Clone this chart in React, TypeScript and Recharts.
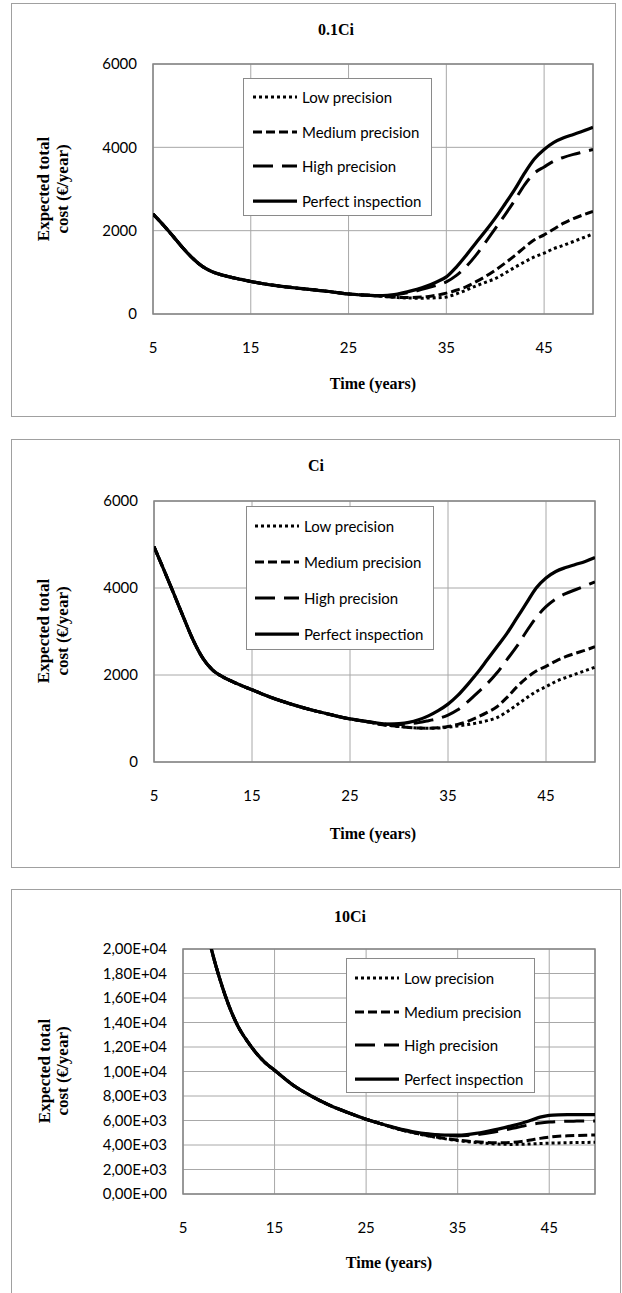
import React from 'react';
import { LineChart, Line, XAxis, YAxis, CartesianGrid, ReferenceArea, Legend } from 'recharts';

// ---------- data ----------
const years = [5, 6, 7, 8, 9, 10, 11, 12, 13, 14, 15, 17, 19, 21, 23, 25, 27, 28, 29, 30, 31, 32, 33, 34, 35, 36, 37, 38, 39, 40, 41, 42, 43, 44, 45, 46, 47, 48, 49, 50];
const xTicks = [5, 15, 25, 35, 45];

// Panel 1: 0.1Ci (years 5..27 shared, then 28..50 per series)
const p1Common = [2400, 2150, 1880, 1600, 1350, 1150, 1020, 940, 880, 830, 780, 700, 640, 590, 540, 480, 450];
const p1LowTail = [435, 412, 395, 385, 380, 382, 390, 410, 480, 570, 670, 760, 850, 980, 1120, 1250, 1370, 1460, 1570, 1650, 1740, 1830, 1920];
const p1MediumTail = [435, 415, 400, 395, 400, 415, 450, 500, 570, 650, 770, 900, 1050, 1220, 1400, 1600, 1780, 1900, 2040, 2180, 2290, 2380, 2460];
const p1HighTail = [440, 445, 470, 510, 560, 620, 690, 770, 920, 1130, 1400, 1720, 2050, 2380, 2730, 3100, 3380, 3530, 3670, 3760, 3830, 3890, 3950];
const p1PerfectTail = [440, 450, 480, 530, 590, 670, 770, 890, 1120, 1400, 1700, 1990, 2300, 2640, 2990, 3380, 3720, 3950, 4120, 4230, 4310, 4390, 4480];

// Panel 2: Ci
const p2Common = [4950, 4420, 3880, 3330, 2800, 2380, 2110, 1960, 1850, 1750, 1660, 1480, 1330, 1200, 1090, 990, 920];
const p2LowTail = [870, 840, 815, 795, 782, 775, 780, 800, 830, 860, 900, 950, 1020, 1150, 1310, 1470, 1620, 1730, 1850, 1940, 2020, 2100, 2180];
const p2MediumTail = [870, 840, 815, 795, 782, 778, 788, 815, 865, 935, 1030, 1140, 1270, 1480, 1720, 1930, 2090, 2200, 2320, 2420, 2500, 2570, 2650];
const p2HighTail = [885, 865, 860, 875, 905, 950, 1000, 1080, 1200, 1380, 1590, 1800, 2050, 2350, 2650, 3000, 3320, 3570, 3750, 3870, 3960, 4050, 4140];
const p2PerfectTail = [890, 870, 880, 910, 970, 1060, 1180, 1330, 1530, 1780, 2050, 2350, 2650, 2950, 3300, 3650, 4000, 4230, 4380, 4470, 4540, 4610, 4700];

// Panel 3: 10Ci
const p3Common = [null, null, 23800, 20300, 17600, 15400, 13700, 12500, 11500, 10700, 10100, 8900, 8000, 7250, 6650, 6100, 5650];
const p3LowTail = [5400, 5200, 5030, 4860, 4710, 4580, 4460, 4360, 4270, 4200, 4140, 4090, 4060, 4050, 4060, 4090, 4120, 4150, 4170, 4190, 4200, 4210, 4220];
const p3MediumTail = [5400, 5200, 5030, 4860, 4720, 4600, 4490, 4400, 4320, 4260, 4220, 4190, 4180, 4210, 4290, 4410, 4540, 4640, 4710, 4750, 4780, 4800, 4810];
const p3HighTail = [5430, 5230, 5070, 4940, 4850, 4790, 4750, 4740, 4770, 4840, 4940, 5060, 5200, 5360, 5520, 5670, 5790, 5870, 5920, 5940, 5950, 5960, 5960];
const p3PerfectTail = [5450, 5250, 5100, 4980, 4890, 4830, 4800, 4800, 4850, 4950, 5080, 5230, 5400, 5580, 5780, 6020, 6270, 6420, 6460, 6470, 6470, 6480, 6480];

const p12YTicks = [0, 2000, 4000, 6000];
const p3YTicks = [0, 2000, 4000, 6000, 8000, 10000, 12000, 14000, 16000, 18000, 20000];

const titles = ['0.1Ci', 'Ci', '10Ci'];
const xTitle = 'Time (years)';
const yTitle1 = 'Expected total';
const yTitle2 = 'cost  (€/year)';

// ---------- styling config ----------
const SERIES = [
  { key: 'low', name: 'Low precision', dash: '3 3', width: 3 },
  { key: 'medium', name: 'Medium precision', dash: '9 4', width: 3 },
  { key: 'high', name: 'High precision', dash: '20 9', width: 3 },
  { key: 'perfect', name: 'Perfect inspection', dash: undefined, width: 3.25 },
];

const buildRows = (common: any[], low: number[], med: number[], high: number[], perf: number[]) =>
  years.map((y, i) => {
    const c = i < common.length;
    const j = i - common.length;
    return {
      year: y,
      low: c ? common[i] : low[j],
      medium: c ? common[i] : med[j],
      high: c ? common[i] : high[j],
      perfect: c ? common[i] : perf[j],
    };
  });

const sci = (v: number) => {
  if (v === 0) return '0,00E+00';
  const e = Math.floor(Math.log10(v) + 1e-9);
  const m = v / Math.pow(10, e);
  return `${m.toFixed(2).replace('.', ',')}E+${String(e).padStart(2, '0')}`;
};

const TICK_FONT = 'Lato, "Open Sans", sans-serif';
const SERIF = '"Liberation Serif", "Times New Roman", serif';

const PANELS = [
  {
    top: 0, height: 440,
    plot: { left: 153, right: 593, top: 64, bottom: 314 },
    rows: buildRows(p1Common, p1LowTail, p1MediumTail, p1HighTail, p1PerfectTail),
    yDomain: [0, 6000], yTicks: p12YTicks, yFmt: (v: number) => String(v),
    legend: { left: 243, top: 78, width: 189, height: 138, rowStart: 18, rowGap: 34.7, sx: 9 },
    title: { x: 336, y: 29 }, xt: { x: 373, y: 383 }, yt: { x1: 43, x2: 62, y: 189 },
    border: { left: 11, top: 3, width: 605, height: 414, noBottom: false },
  },
  {
    top: 420, height: 450,
    plot: { left: 154, right: 595, top: 501, bottom: 762 },
    rows: buildRows(p2Common, p2LowTail, p2MediumTail, p2HighTail, p2PerfectTail),
    yDomain: [0, 6000], yTicks: p12YTicks, yFmt: (v: number) => String(v),
    legend: { left: 246, top: 506, width: 188, height: 144, rowStart: 19, rowGap: 36, sx: 8 },
    title: { x: 316, y: 465 }, xt: { x: 373, y: 833 }, yt: { x1: 43, x2: 62, y: 631 },
    border: { left: 11, top: 439, width: 609, height: 429, noBottom: false },
  },
  {
    top: 870, height: 423,
    plot: { left: 183, right: 595, top: 949, bottom: 1194 },
    rows: buildRows(p3Common, p3LowTail, p3MediumTail, p3HighTail, p3PerfectTail),
    yDomain: [0, 20000], yTicks: p3YTicks, yFmt: sci,
    legend: { left: 346, top: 958, width: 189, height: 135, rowStart: 19, rowGap: 33.7, sx: 8 },
    title: { x: 350, y: 916 }, xt: { x: 389, y: 1262 }, yt: { x1: 44, x2: 62, y: 1071 },
    border: { left: 11, top: 889, width: 610, height: 410, noBottom: true },
  },
];

function LegendBox({ lg }: { lg: any }) {
  return (
    <div style={{ position: 'relative', width: lg.width, height: lg.height, boxSizing: 'border-box', border: '1px solid #8a8a8a', background: '#fff' }}>
      {SERIES.map((s, i) => {
        const cy = lg.rowStart + i * lg.rowGap;
        return (
          <div key={s.key} style={{ position: 'absolute', left: 0, top: cy - 12, height: 24, width: lg.width }}>
            <svg width={50} height={24} style={{ position: 'absolute', left: lg.sx, top: 0 }}>
              <line x1={0} x2={44} y1={12} y2={12} stroke="#000" strokeWidth={s.width} strokeDasharray={s.dash} />
            </svg>
            <span style={{ position: 'absolute', left: lg.sx + 49, top: 0, lineHeight: '24px', fontFamily: TICK_FONT, fontSize: 15, color: '#000', whiteSpace: 'nowrap' }}>{s.name}</span>
          </div>
        );
      })}
    </div>
  );
}

function Panel({ cfg }: { cfg: any }) {
  const { top, height, plot, rows, yDomain, yTicks, yFmt, legend, border } = cfg;
  const xAxisH = 40;
  const margin = {
    top: plot.top - top,
    right: 622 - plot.right,
    bottom: top + height - plot.bottom - xAxisH,
    left: 0,
  };
  const tickStyle = { fill: '#000', fontSize: 15, fontFamily: TICK_FONT };
  return (
    <>
      <div style={{ position: 'absolute', left: border.left, top: border.top, width: border.width, height: border.height, boxSizing: 'border-box', border: '1.5px solid #a0a0a0', borderBottom: border.noBottom ? 'none' : '1.5px solid #a0a0a0' }} />
      <div style={{ position: 'absolute', left: 0, top, width: 622, height }}>
        <LineChart width={622} height={height} data={rows} margin={margin}>
          <CartesianGrid stroke="#a8a8a8" strokeWidth={1} />
          <ReferenceArea x1={5} x2={50} y1={yDomain[0]} y2={yDomain[1]} fill="none" stroke="#858585" strokeWidth={1.5} ifOverflow="visible" />
          <XAxis dataKey="year" type="number" domain={[5, 50]} ticks={xTicks} interval={0} axisLine={false} tickLine={false} tickSize={0} tickMargin={28} height={xAxisH} tick={tickStyle} allowDataOverflow />
          <YAxis type="number" domain={yDomain} ticks={yTicks} interval={0} width={plot.left} axisLine={false} tickLine={false} tickSize={0} tickMargin={16} tickFormatter={yFmt} tick={tickStyle} allowDataOverflow />
          {SERIES.map((s) => (
            <Line key={s.key} dataKey={s.key} name={s.name} type="monotone" stroke="#000" strokeWidth={s.width} strokeDasharray={s.dash} dot={false} activeDot={false} isAnimationActive={false} connectNulls={false} />
          ))}
          <Legend layout="vertical" align="center" verticalAlign="middle"
            wrapperStyle={{ position: 'absolute', left: legend.left, top: legend.top - top, width: legend.width, height: legend.height, margin: 0, padding: 0 }}
            content={() => <LegendBox lg={legend} />} />
        </LineChart>
      </div>
    </>
  );
}

function Overlay() {
  return (
    <svg width={622} height={1293} style={{ position: 'absolute', left: 0, top: 0, pointerEvents: 'none' }}>
      {PANELS.map((p, i) => (
        <g key={i} fontFamily={SERIF} fontWeight="bold" fill="#000">
          <text x={p.title.x} y={p.title.y} textAnchor="middle" dominantBaseline="central" fontSize={16}>{titles[i]}</text>
          <text x={p.xt.x} y={p.xt.y} textAnchor="middle" dominantBaseline="central" fontSize={16}>{xTitle}</text>
          <text x={p.yt.x1} y={p.yt.y} textAnchor="middle" dominantBaseline="central" fontSize={17} transform={`rotate(-90 ${p.yt.x1} ${p.yt.y})`}>{yTitle1}</text>
          <text x={p.yt.x2} y={p.yt.y} textAnchor="middle" dominantBaseline="central" fontSize={17} transform={`rotate(-90 ${p.yt.x2} ${p.yt.y})`}>{yTitle2}</text>
        </g>
      ))}
    </svg>
  );
}

export default function App() {
  return (
    <div style={{ position: 'absolute', left: 0, top: 0, width: 622, height: 1293, overflow: 'hidden', background: '#fff' }}>
      {PANELS.map((p, i) => <Panel key={i} cfg={p} />)}
      <Overlay />
    </div>
  );
}
